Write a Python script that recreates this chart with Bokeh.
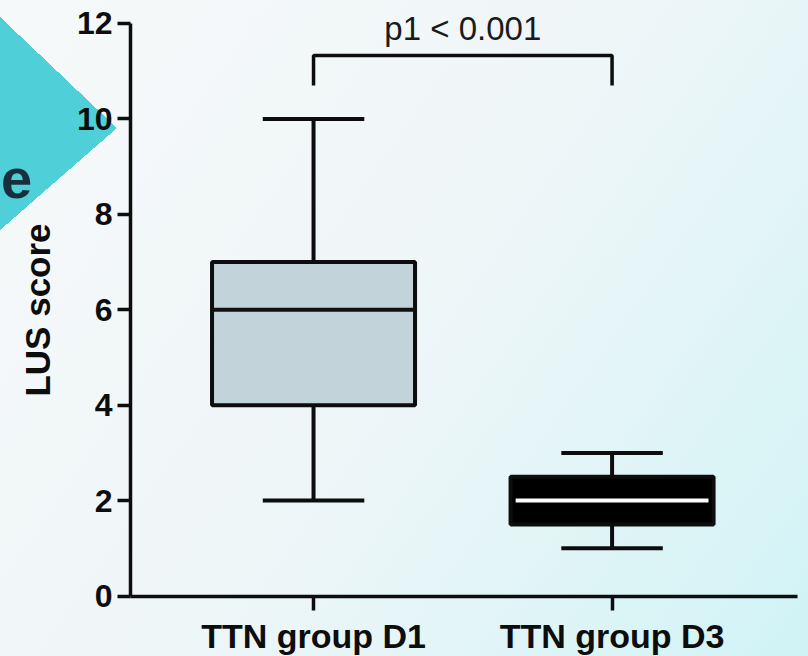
from bokeh.plotting import figure
from bokeh.models import Range1d, FixedTicker
from bokeh.core.properties import value
from bokeh.embed import file_html
from bokeh.resources import INLINE

# ---- data ----
categories = ["TTN group D1", "TTN group D3"]
positions = [1, 2]
whisker_low = [2, 1]
q1 = [4, 1.5]
median = [6, 2]
q3 = [7, 2.5]
whisker_high = [10, 3]
y_ticks = [0, 2, 4, 6, 8, 10, 12]
p_label = "p1 < 0.001"
bracket_low = 10.70
bracket_high = 11.33
p_label_y = 11.90
slide_text = "e"          # fragment of the slide title behind the chart

# ---- layout / styles ----
X_AXIS_START = 0.387
X_AXIS_END = 2.621
box_fill = ["#c3d3da", "#000000"]
median_color = ["#111111", "#ffffff"]
median_inset = [0.0, 0.017]
BOX_W = 0.68
CAP_W = 0.34
FONT = "Liberation Sans"
INK = "#0d0d0d"

p = figure(width=808, height=656, output_backend="svg", toolbar_location=None,
           x_range=Range1d(-0.0486, 2.658), y_range=Range1d(-1.268, 12.482),
           min_border=0)
p.background_fill_color = None
p.border_fill_color = None
p.outline_line_color = None
p.grid.visible = False
p.styles = {
    "background": (
        "conic-gradient(at 117px 128px, transparent 0deg 228.9deg, "
        "#4fcfd8 228.9deg 313.5deg, transparent 313.5deg 360deg), "
        "linear-gradient(125deg, #f6f9fa 0%, #f0f6f8 45%, #e4f5f7 70%, #d0f3f6 100%)"
    )
}

# slide-title fragment on the teal arrow
p.text(x=[-0.047], y=[8.75], text=[slide_text], text_font=value(FONT),
       text_font_size="56px", text_font_style="bold", text_color="#17303c",
       text_baseline="alphabetic", text_align="left")

# whiskers
p.segment(x0=positions, y0=q3, x1=positions, y1=whisker_high, line_color=INK, line_width=4)
p.segment(x0=positions, y0=q1, x1=positions, y1=whisker_low, line_color=INK, line_width=4)
cap_x0 = [x - CAP_W / 2 for x in positions]
cap_x1 = [x + CAP_W / 2 for x in positions]
p.segment(x0=cap_x0, y0=whisker_high, x1=cap_x1, y1=whisker_high, line_color=INK, line_width=4)
p.segment(x0=cap_x0, y0=whisker_low, x1=cap_x1, y1=whisker_low, line_color=INK, line_width=4)

# boxes
p.vbar(x=positions, width=BOX_W, bottom=q1, top=q3, fill_color=box_fill,
       line_color=INK, line_width=4)
med_x0 = [x - BOX_W / 2 + i for x, i in zip(positions, median_inset)]
med_x1 = [x + BOX_W / 2 - i for x, i in zip(positions, median_inset)]
p.segment(x0=med_x0, y0=median, x1=med_x1, y1=median, line_color=median_color, line_width=4)

# significance bracket
p.line(x=[positions[0], positions[0], positions[1], positions[1]],
       y=[bracket_low, bracket_high, bracket_high, bracket_low],
       line_color=INK, line_width=3.5)
p.text(x=[(positions[0] + positions[1]) / 2], y=[p_label_y], text=[p_label],
       text_font=value(FONT), text_font_size="33px", text_align="center",
       text_baseline="middle", text_color="#1a1a1a")

# axes (placed at fixed data locations inside the full-canvas frame)
for ax in (p.xaxis[0], p.yaxis[0]):
    ax.axis_line_width = 3.5
    ax.axis_line_color = INK
    ax.major_tick_line_width = 3.5
    ax.major_tick_line_color = INK
    ax.major_tick_in = 0
    ax.minor_tick_line_color = None
    ax.major_label_text_font = FONT
    ax.major_label_text_font_style = "bold"
    ax.major_label_text_color = INK

p.yaxis.fixed_location = X_AXIS_START
p.yaxis.ticker = FixedTicker(ticks=y_ticks)
p.yaxis.bounds = (y_ticks[0], y_ticks[-1])
p.yaxis.major_tick_out = 13
p.yaxis.major_label_standoff = 5
p.yaxis.major_label_text_font_size = "32px"
p.yaxis.axis_label = "LUS score"
p.yaxis.axis_label_text_font = FONT
p.yaxis.axis_label_text_font_size = "35px"
p.yaxis.axis_label_text_font_style = "bold"
p.yaxis.axis_label_text_color = INK
p.yaxis.axis_label_standoff = 17

p.xaxis.fixed_location = y_ticks[0]
p.xaxis.bounds = (X_AXIS_START, X_AXIS_END)
p.xaxis.ticker = FixedTicker(ticks=positions)
p.xaxis.major_label_overrides = {x: c for x, c in zip(positions, categories)}
p.xaxis.major_tick_out = 14
p.xaxis.major_label_standoff = 7
p.xaxis.major_label_text_font_size = "34px"

open("out.html", "w").write(file_html(p, INLINE))
